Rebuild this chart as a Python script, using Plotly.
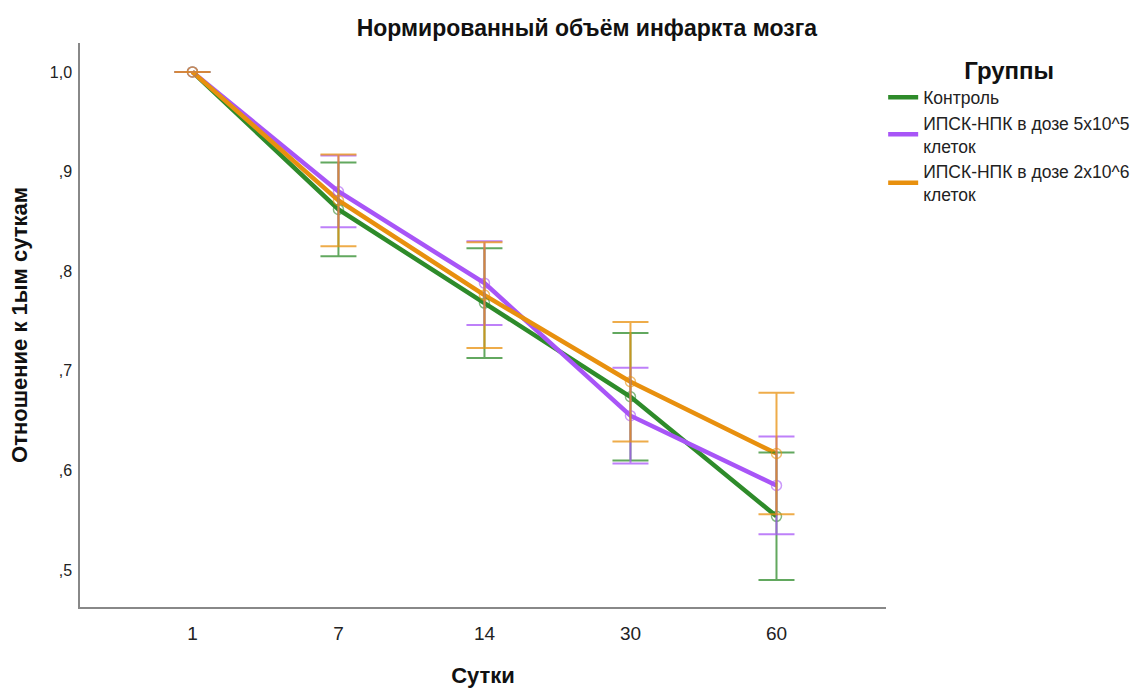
import plotly.graph_objects as go

days = ["1", "7", "14", "30", "60"]
series_names = ["Контроль", "ИПСК-НПК в дозе 5x10^5<br>клеток", "ИПСК-НПК в дозе 2x10^6<br>клеток"]
control_mean = [1.0, 0.862, 0.768, 0.674, 0.554]
control_err = [0.0, 0.047, 0.055, 0.064, 0.064]
low_mean = [1.0, 0.880, 0.788, 0.655, 0.585]
low_err = [0.0, 0.036, 0.042, 0.048, 0.049]
high_mean = [1.0, 0.871, 0.776, 0.689, 0.617]
high_err = [0.0, 0.046, 0.053, 0.060, 0.061]
y_ticks = [0.5, 0.6, 0.7, 0.8, 0.9, 1.0]
y_tick_labels = [",5", ",6", ",7", ",8", ",9", "1,0"]

colors = ["#2E8B2A", "#A855F7", "#E8900E"]
err_colors = ["rgba(46,139,42,0.75)", "rgba(168,85,247,0.75)", "rgba(232,144,14,0.75)"]
marker_colors = ["rgba(46,139,42,0.6)", "rgba(168,85,247,0.6)", "rgba(232,144,14,0.6)"]

fig = go.Figure()
all_means = [control_mean, low_mean, high_mean]
all_errs = [control_err, low_err, high_err]
for i, (name, m, c) in enumerate(zip(series_names, all_means, colors)):
    fig.add_trace(go.Scatter(
        x=days, y=m, name=name, mode="lines", legendgroup=str(i),
        line=dict(color=c, width=4.5),
    ))
for i, (m, e, ec, mc) in enumerate(zip(all_means, all_errs, err_colors, marker_colors)):
    fig.add_trace(go.Scatter(
        x=days, y=m, mode="markers", showlegend=False, legendgroup=str(i),
        marker=dict(symbol="circle-open", size=10, color=mc, line=dict(width=1.5, color=mc)),
        error_y=dict(type="data", array=e, visible=True, color=ec, thickness=2, width=18),
    ))

fig.update_layout(
    width=1144, height=688,
    margin=dict(l=80, r=258, t=43, b=81, autoexpand=False),
    paper_bgcolor="white", plot_bgcolor="white",
    font=dict(family="Liberation Sans, Arial, sans-serif", color="#222"),
    title=dict(text="<b>Нормированный объём инфаркта мозга</b>", x=0.513, xanchor="center",
               y=0.96, yanchor="middle", font=dict(size=23, color="#111")),
    showlegend=True,
    legend=dict(x=0.772, y=0.93, xref="container", yref="container", xanchor="left", yanchor="top",
                title=dict(text="<b>Группы</b>", side="top center", font=dict(size=24, color="#111")),
                font=dict(size=17.5, color="#222"), tracegroupgap=0, itemwidth=30,
                bgcolor="rgba(0,0,0,0)"),
    xaxis=dict(type="category", range=[-0.77, 4.75], showline=True, linecolor="#888",
               linewidth=1.5, showgrid=False, zeroline=False, ticks="", automargin=False,
               tickfont=dict(size=19, color="#222"), ticklabelstandoff=8,
               title=dict(text="<b>Сутки</b>", font=dict(size=22, color="#111"), standoff=26)),
    yaxis=dict(range=[0.463, 1.029], showline=True, linecolor="#888", linewidth=1.5,
               showgrid=False, zeroline=False, ticks="", automargin=False,
               tickvals=y_ticks, ticktext=y_tick_labels, tickfont=dict(size=16, color="#222"),
               ticklabelstandoff=3,
               title=dict(text="<b>Отношение к 1ым суткам</b>", font=dict(size=22, color="#111"), standoff=16)),
)

fig.write_html("out.html")
